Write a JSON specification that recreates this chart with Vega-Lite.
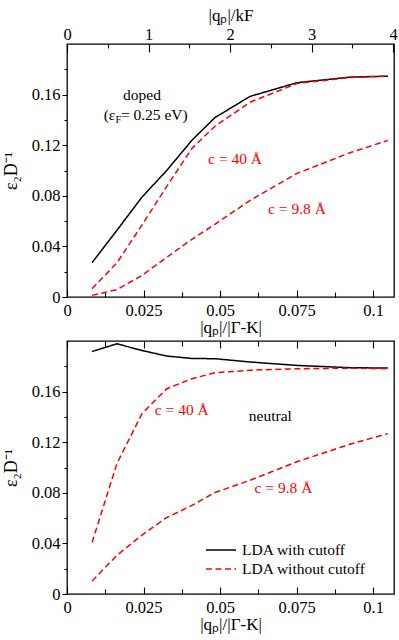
{
  "$schema": "https://vega.github.io/schema/vega-lite/v6.json",
  "padding": {"left": 1, "top": 5, "right": 4, "bottom": 0},
  "config": {
    "font": "Liberation Serif",
    "view": {"stroke": "black", "strokeWidth": 1.3},
    "axis": {
      "domain": false, "grid": false, "ticks": true,
      "labelFont": "Liberation Serif", "labelFontSize": 16.5, "labelColor": "black",
      "titleFont": "Liberation Serif", "titleFontSize": 17, "titleFontWeight": "normal", "titleColor": "black",
      "tickColor": "#000000", "tickWidth": 1.1, "tickOpacity": 1, "labelFlush": false, "labelOverlap": false
    },
    "text": {"font": "Liberation Serif", "fontSize": 15.5, "baseline": "middle", "align": "center"}
  },
  "datasets": {
    "lines": [
      {"panel": "top", "curve": "t_cut", "method": "LDA with cutoff", "q": 0.0082, "eps": 0.0272},
      {"panel": "top", "curve": "t_cut", "method": "LDA with cutoff", "q": 0.0163, "eps": 0.0527},
      {"panel": "top", "curve": "t_cut", "method": "LDA with cutoff", "q": 0.0245, "eps": 0.079},
      {"panel": "top", "curve": "t_cut", "method": "LDA with cutoff", "q": 0.0326, "eps": 0.1001},
      {"panel": "top", "curve": "t_cut", "method": "LDA with cutoff", "q": 0.0408, "eps": 0.1239},
      {"panel": "top", "curve": "t_cut", "method": "LDA with cutoff", "q": 0.0483, "eps": 0.1418},
      {"panel": "top", "curve": "t_cut", "method": "LDA with cutoff", "q": 0.0598, "eps": 0.1586},
      {"panel": "top", "curve": "t_cut", "method": "LDA with cutoff", "q": 0.0751, "eps": 0.1694},
      {"panel": "top", "curve": "t_cut", "method": "LDA with cutoff", "q": 0.0924, "eps": 0.1738},
      {"panel": "top", "curve": "t_cut", "method": "LDA with cutoff", "q": 0.1048, "eps": 0.1746},
      {"panel": "top", "curve": "t_40", "method": "LDA without cutoff", "q": 0.0082, "eps": 0.0066},
      {"panel": "top", "curve": "t_40", "method": "LDA without cutoff", "q": 0.0163, "eps": 0.027},
      {"panel": "top", "curve": "t_40", "method": "LDA without cutoff", "q": 0.0245, "eps": 0.057},
      {"panel": "top", "curve": "t_40", "method": "LDA without cutoff", "q": 0.0326, "eps": 0.0875},
      {"panel": "top", "curve": "t_40", "method": "LDA without cutoff", "q": 0.0408, "eps": 0.1175},
      {"panel": "top", "curve": "t_40", "method": "LDA without cutoff", "q": 0.0483, "eps": 0.135},
      {"panel": "top", "curve": "t_40", "method": "LDA without cutoff", "q": 0.0598, "eps": 0.154},
      {"panel": "top", "curve": "t_40", "method": "LDA without cutoff", "q": 0.0751, "eps": 0.1688},
      {"panel": "top", "curve": "t_40", "method": "LDA without cutoff", "q": 0.0924, "eps": 0.1735},
      {"panel": "top", "curve": "t_40", "method": "LDA without cutoff", "q": 0.1048, "eps": 0.1745},
      {"panel": "top", "curve": "t_98", "method": "LDA without cutoff", "q": 0.0082, "eps": 0.0013},
      {"panel": "top", "curve": "t_98", "method": "LDA without cutoff", "q": 0.0163, "eps": 0.0058},
      {"panel": "top", "curve": "t_98", "method": "LDA without cutoff", "q": 0.0245, "eps": 0.0171},
      {"panel": "top", "curve": "t_98", "method": "LDA without cutoff", "q": 0.0326, "eps": 0.0314},
      {"panel": "top", "curve": "t_98", "method": "LDA without cutoff", "q": 0.0408, "eps": 0.0456},
      {"panel": "top", "curve": "t_98", "method": "LDA without cutoff", "q": 0.0483, "eps": 0.0574},
      {"panel": "top", "curve": "t_98", "method": "LDA without cutoff", "q": 0.0598, "eps": 0.0764},
      {"panel": "top", "curve": "t_98", "method": "LDA without cutoff", "q": 0.0751, "eps": 0.0977},
      {"panel": "top", "curve": "t_98", "method": "LDA without cutoff", "q": 0.0924, "eps": 0.114},
      {"panel": "top", "curve": "t_98", "method": "LDA without cutoff", "q": 0.1048, "eps": 0.1238},
      {"panel": "bottom", "curve": "b_cut", "method": "LDA with cutoff", "q": 0.0082, "eps": 0.1917},
      {"panel": "bottom", "curve": "b_cut", "method": "LDA with cutoff", "q": 0.0163, "eps": 0.1978},
      {"panel": "bottom", "curve": "b_cut", "method": "LDA with cutoff", "q": 0.0245, "eps": 0.1925},
      {"panel": "bottom", "curve": "b_cut", "method": "LDA with cutoff", "q": 0.0326, "eps": 0.1881},
      {"panel": "bottom", "curve": "b_cut", "method": "LDA with cutoff", "q": 0.0408, "eps": 0.1862},
      {"panel": "bottom", "curve": "b_cut", "method": "LDA with cutoff", "q": 0.0483, "eps": 0.186},
      {"panel": "bottom", "curve": "b_cut", "method": "LDA with cutoff", "q": 0.0598, "eps": 0.1834},
      {"panel": "bottom", "curve": "b_cut", "method": "LDA with cutoff", "q": 0.0751, "eps": 0.1807},
      {"panel": "bottom", "curve": "b_cut", "method": "LDA with cutoff", "q": 0.0924, "eps": 0.1789},
      {"panel": "bottom", "curve": "b_cut", "method": "LDA with cutoff", "q": 0.1048, "eps": 0.1786},
      {"panel": "bottom", "curve": "b_40", "method": "LDA without cutoff", "q": 0.0082, "eps": 0.0408},
      {"panel": "bottom", "curve": "b_40", "method": "LDA without cutoff", "q": 0.0163, "eps": 0.1031},
      {"panel": "bottom", "curve": "b_40", "method": "LDA without cutoff", "q": 0.0245, "eps": 0.1426},
      {"panel": "bottom", "curve": "b_40", "method": "LDA without cutoff", "q": 0.0326, "eps": 0.1623},
      {"panel": "bottom", "curve": "b_40", "method": "LDA without cutoff", "q": 0.0408, "eps": 0.1702},
      {"panel": "bottom", "curve": "b_40", "method": "LDA without cutoff", "q": 0.0483, "eps": 0.1749},
      {"panel": "bottom", "curve": "b_40", "method": "LDA without cutoff", "q": 0.0598, "eps": 0.1769},
      {"panel": "bottom", "curve": "b_40", "method": "LDA without cutoff", "q": 0.0751, "eps": 0.1781},
      {"panel": "bottom", "curve": "b_40", "method": "LDA without cutoff", "q": 0.0924, "eps": 0.1785},
      {"panel": "bottom", "curve": "b_40", "method": "LDA without cutoff", "q": 0.1048, "eps": 0.1781},
      {"panel": "bottom", "curve": "b_98", "method": "LDA without cutoff", "q": 0.0082, "eps": 0.0103},
      {"panel": "bottom", "curve": "b_98", "method": "LDA without cutoff", "q": 0.0163, "eps": 0.0305},
      {"panel": "bottom", "curve": "b_98", "method": "LDA without cutoff", "q": 0.0245, "eps": 0.0466},
      {"panel": "bottom", "curve": "b_98", "method": "LDA without cutoff", "q": 0.0326, "eps": 0.0605},
      {"panel": "bottom", "curve": "b_98", "method": "LDA without cutoff", "q": 0.0408, "eps": 0.07},
      {"panel": "bottom", "curve": "b_98", "method": "LDA without cutoff", "q": 0.0483, "eps": 0.0802},
      {"panel": "bottom", "curve": "b_98", "method": "LDA without cutoff", "q": 0.0598, "eps": 0.0899},
      {"panel": "bottom", "curve": "b_98", "method": "LDA without cutoff", "q": 0.0751, "eps": 0.1045},
      {"panel": "bottom", "curve": "b_98", "method": "LDA without cutoff", "q": 0.0924, "eps": 0.1184},
      {"panel": "bottom", "curve": "b_98", "method": "LDA without cutoff", "q": 0.1048, "eps": 0.1268}
    ],
    "notes": [
      {"panel": "top", "label": "doped", "method": "LDA with cutoff", "q": 0.0245, "eps": 0.16},
      {"panel": "top", "label": "c = 40 Å", "method": "LDA without cutoff", "q": 0.0549, "eps": 0.1093},
      {"panel": "top", "label": "c = 9.8 Å", "method": "LDA without cutoff", "q": 0.0751, "eps": 0.0698},
      {"panel": "bottom", "label": "c = 40 Å", "method": "LDA without cutoff", "q": 0.0375, "eps": 0.1452},
      {"panel": "bottom", "label": "neutral", "method": "LDA with cutoff", "q": 0.0664, "eps": 0.1408},
      {"panel": "bottom", "label": "c = 9.8 Å", "method": "LDA without cutoff", "q": 0.0707, "eps": 0.084}
    ],
    "fermi": [
      {"part": "a", "label": "(ε", "q": 0.0158, "eps": 0.1435},
      {"part": "b", "label": "F", "q": 0.0158, "eps": 0.1435},
      {"part": "c", "label": "= 0.25 eV)", "q": 0.0158, "eps": 0.1435}
    ]
  },
  "vconcat": [
    {
      "width": 327, "height": 253,
      "layer": [
        {
          "data": {"name": "lines"},
          "transform": [{"filter": "datum.panel === 'top' && datum.method === 'LDA with cutoff'"}],
          "mark": {"type": "line", "strokeWidth": 1.5},
          "encoding": {
            "x": {"field": "q", "type": "quantitative", "scale": {"domain": [0, 0.1068], "nice": false, "zero": false},
              "axis": {"orient": "bottom", "title": "|qₚ|/|Γ-K|", "titlePadding": 1,
                "values": [0, 0.025, 0.05, 0.075, 0.1], "labelExpr": "'' + datum.value",
                "offset": -7, "tickSize": 7, "labelPadding": 5}},
            "y": {"field": "eps", "type": "quantitative", "scale": {"domain": [0, 0.2], "nice": false},
              "axis": {"orient": "left", "title": "ε₂D⁻¹", "titleFontSize": 18, "titlePadding": 11,
                "values": [0, 0.04, 0.08, 0.12, 0.16], "labelExpr": "'' + datum.value",
                "tickSize": 5, "labelPadding": 2}},
            "color": {"field": "method", "type": "nominal", "scale": {"domain": ["LDA with cutoff", "LDA without cutoff"], "range": ["black", "#ff0000"]}, "legend": null},
            "strokeDash": {"field": "method", "type": "nominal", "scale": {"domain": ["LDA with cutoff", "LDA without cutoff"], "range": [[1, 0], [6, 3.5]]}, "legend": null},
            "detail": {"field": "curve"}
          }
        },
        {
          "data": {"name": "lines"},
          "transform": [{"filter": "datum.panel === 'top' && datum.method === 'LDA without cutoff'"}],
          "mark": {"type": "line", "strokeWidth": 1.5},
          "encoding": {
            "x": {"field": "q", "type": "quantitative",
              "axis": {"orient": "bottom", "title": null, "labels": false,
                "values": [0.0125, 0.0375, 0.0625, 0.0875], "offset": -5, "tickSize": 5}},
            "y": {"field": "eps", "type": "quantitative",
              "axis": {"orient": "left", "title": null, "labels": false,
                "values": [0.02, 0.06, 0.1, 0.14, 0.18], "tickSize": 3}},
            "color": {"field": "method", "type": "nominal", "legend": null},
            "strokeDash": {"field": "method", "type": "nominal", "legend": null},
            "detail": {"field": "curve"}
          }
        },
        {
          "data": {"name": "notes"},
          "transform": [{"filter": "datum.panel === 'top'"}],
          "mark": {"type": "text"},
          "encoding": {
            "x": {"field": "q", "type": "quantitative",
              "axis": {"orient": "top", "title": "|qₚ|/kF", "titlePadding": 2,
                "values": [0, 0.02662, 0.05324, 0.07986, 0.10648],
                "labelExpr": "'' + round(datum.value/0.02662)",
                "offset": -8, "tickSize": 8, "labelPadding": 2}},
            "y": {"field": "eps", "type": "quantitative", "axis": null},
            "text": {"field": "label"},
            "color": {"field": "method", "type": "nominal", "legend": null}
          }
        },
        {
          "data": {"name": "fermi"},
          "transform": [{"filter": "datum.part === 'a'"}],
          "mark": {"type": "text", "align": "right", "color": "black"},
          "encoding": {
            "x": {"field": "q", "type": "quantitative",
              "axis": {"orient": "top", "title": null, "labels": false,
                "values": [0.01331, 0.03993, 0.06655, 0.09317], "offset": -4, "tickSize": 4}},
            "y": {"field": "eps", "type": "quantitative", "axis": null},
            "text": {"field": "label"}
          }
        },
        {
          "data": {"name": "fermi"},
          "transform": [{"filter": "datum.part === 'b'"}],
          "mark": {"type": "text", "align": "left", "color": "black", "fontSize": 10.5, "dy": 5},
          "encoding": {
            "x": {"field": "q", "type": "quantitative", "axis": null},
            "y": {"field": "eps", "type": "quantitative", "axis": null},
            "text": {"field": "label"}
          }
        },
        {
          "data": {"name": "fermi"},
          "transform": [{"filter": "datum.part === 'c'"}],
          "mark": {"type": "text", "align": "left", "color": "black", "dx": 5.5},
          "encoding": {
            "x": {"field": "q", "type": "quantitative", "axis": null},
            "y": {"field": "eps", "type": "quantitative", "axis": null},
            "text": {"field": "label"}
          }
        }
      ],
      "resolve": {"axis": {"x": "independent", "y": "independent"}}
    },
    {
      "width": 327, "height": 253,
      "layer": [
        {
          "data": {"name": "lines"},
          "transform": [{"filter": "datum.panel === 'bottom' && datum.method === 'LDA with cutoff'"}],
          "mark": {"type": "line", "strokeWidth": 1.5},
          "encoding": {
            "x": {"field": "q", "type": "quantitative", "scale": {"domain": [0, 0.1068], "nice": false, "zero": false},
              "axis": {"orient": "bottom", "title": "|qₚ|/|Γ-K|", "titlePadding": 1,
                "values": [0, 0.025, 0.05, 0.075, 0.1], "labelExpr": "'' + datum.value",
                "offset": -7, "tickSize": 7, "labelPadding": 5}},
            "y": {"field": "eps", "type": "quantitative", "scale": {"domain": [0, 0.2], "nice": false},
              "axis": {"orient": "left", "title": "ε₂D⁻¹", "titleFontSize": 18, "titlePadding": 11,
                "values": [0, 0.04, 0.08, 0.12, 0.16], "labelExpr": "'' + datum.value",
                "tickSize": 5, "labelPadding": 2}},
            "color": {"field": "method", "type": "nominal", "scale": {"domain": ["LDA with cutoff", "LDA without cutoff"], "range": ["black", "#ff0000"]},
              "legend": {"title": null, "orient": "none", "legendX": 145, "legendY": 200, "direction": "vertical",
                "symbolType": "M-1.875,0L1.875,0", "symbolSize": 256, "symbolStrokeWidth": 1.5, "labelFont": "Liberation Serif", "labelFontSize": 15.5, "labelColor": "black", "labelOffset": 12, "rowPadding": 1, "padding": 0}},
            "strokeDash": {"field": "method", "type": "nominal", "scale": {"domain": ["LDA with cutoff", "LDA without cutoff"], "range": [[1, 0], [6, 3.5]]},
              "legend": {"title": null, "orient": "none", "legendX": 145, "legendY": 200, "direction": "vertical",
                "symbolType": "M-1.875,0L1.875,0", "symbolSize": 256, "symbolStrokeWidth": 1.5, "labelFont": "Liberation Serif", "labelFontSize": 15.5, "labelColor": "black", "labelOffset": 12, "rowPadding": 1, "padding": 0}},
            "detail": {"field": "curve"}
          }
        },
        {
          "data": {"name": "lines"},
          "transform": [{"filter": "datum.panel === 'bottom' && datum.method === 'LDA without cutoff'"}],
          "mark": {"type": "line", "strokeWidth": 1.5},
          "encoding": {
            "x": {"field": "q", "type": "quantitative",
              "axis": {"orient": "bottom", "title": null, "labels": false,
                "values": [0.0125, 0.0375, 0.0625, 0.0875], "offset": -5, "tickSize": 5}},
            "y": {"field": "eps", "type": "quantitative",
              "axis": {"orient": "left", "title": null, "labels": false,
                "values": [0.02, 0.06, 0.1, 0.14, 0.18], "tickSize": 3}},
            "color": {"field": "method", "type": "nominal",
              "legend": {"title": null, "orient": "none", "legendX": 145, "legendY": 200, "direction": "vertical",
                "symbolType": "M-1.875,0L1.875,0", "symbolSize": 256, "symbolStrokeWidth": 1.5, "labelFont": "Liberation Serif", "labelFontSize": 15.5, "labelColor": "black", "labelOffset": 12, "rowPadding": 1, "padding": 0}},
            "strokeDash": {"field": "method", "type": "nominal",
              "legend": {"title": null, "orient": "none", "legendX": 145, "legendY": 200, "direction": "vertical",
                "symbolType": "M-1.875,0L1.875,0", "symbolSize": 256, "symbolStrokeWidth": 1.5, "labelFont": "Liberation Serif", "labelFontSize": 15.5, "labelColor": "black", "labelOffset": 12, "rowPadding": 1, "padding": 0}},
            "detail": {"field": "curve"}
          }
        },
        {
          "data": {"name": "notes"},
          "transform": [{"filter": "datum.panel === 'bottom' && datum.method === 'LDA without cutoff'"}],
          "mark": {"type": "text"},
          "encoding": {
            "x": {"field": "q", "type": "quantitative",
              "axis": {"orient": "top", "title": null, "labels": false,
                "values": [0, 0.025, 0.05, 0.075, 0.1], "offset": -7, "tickSize": 7}},
            "y": {"field": "eps", "type": "quantitative", "axis": null},
            "text": {"field": "label"},
            "color": {"field": "method", "type": "nominal", "legend": null}
          }
        },
        {
          "data": {"name": "notes"},
          "transform": [{"filter": "datum.panel === 'bottom' && datum.method === 'LDA with cutoff'"}],
          "mark": {"type": "text"},
          "encoding": {
            "x": {"field": "q", "type": "quantitative",
              "axis": {"orient": "top", "title": null, "labels": false,
                "values": [0.0125, 0.0375, 0.0625, 0.0875], "offset": -5, "tickSize": 5}},
            "y": {"field": "eps", "type": "quantitative", "axis": null},
            "text": {"field": "label"},
            "color": {"field": "method", "type": "nominal", "legend": null}
          }
        }
      ],
      "resolve": {"axis": {"x": "independent", "y": "independent"}}
    }
  ],
  "spacing": 44,
  "bounds": "flush",
  "resolve": {"legend": {"color": "independent", "strokeDash": "independent"}}
}
